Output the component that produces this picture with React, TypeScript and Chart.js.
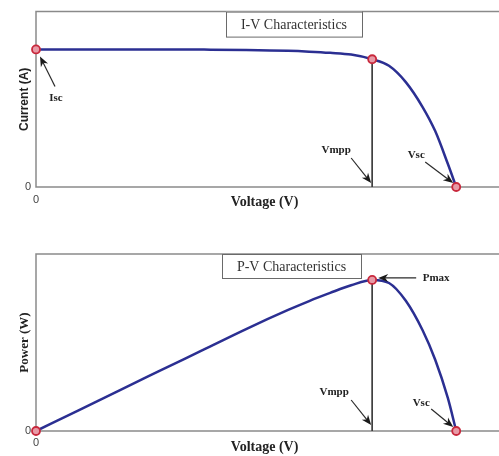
import React, { useEffect, useRef } from "react";
import { Chart, registerables } from "chart.js";

Chart.register(...registerables);

// ---- data ----
const voltage = [0, 10, 20, 30, 40, 50, 60, 65, 70, 75, 80, 84, 88, 92, 95, 98, 100];
const current = [8, 8, 8, 8, 7.99, 7.97, 7.92, 7.87, 7.8, 7.7, 7.43, 7.05, 6.1, 4.65, 3.25, 1.35, 0];
const power = [0, 80, 161, 241, 321, 401, 476, 511, 543, 573, 594, 582, 512, 396, 280, 130, 0];

const isc = 8;
const vmpp = 80;
const impp = 7.43;
const vsc = 100;
const pmax = 594;

const xTickValues = [0];
const yTickValues = [0];
const xAxisMax = 108.8;
const currentAxisMax = 10.2;
const powerAxisMax = 696;

const CANVAS_W = 499;
const CANVAS_H = 228;

const SERIF = '"Liberation Serif", "Times New Roman", serif';
const SANS = '"Liberation Sans", Arial, sans-serif';

function drawArrow(ctx: CanvasRenderingContext2D, x1: number, y1: number, x2: number, y2: number) {
  const ang = Math.atan2(y2 - y1, x2 - x1);
  const len = 10;
  const hw = 4;
  ctx.strokeStyle = "#2a2a2a";
  ctx.fillStyle = "#1a1a1a";
  ctx.lineWidth = 1.2;
  ctx.beginPath();
  ctx.moveTo(x1, y1);
  ctx.lineTo(x2 - Math.cos(ang) * len * 0.6, y2 - Math.sin(ang) * len * 0.6);
  ctx.stroke();
  const bx = x2 - Math.cos(ang) * len;
  const by = y2 - Math.sin(ang) * len;
  const nx = -Math.sin(ang);
  const ny = Math.cos(ang);
  const mx = x2 - Math.cos(ang) * len * 0.7;
  const my = y2 - Math.sin(ang) * len * 0.7;
  ctx.beginPath();
  ctx.moveTo(x2, y2);
  ctx.lineTo(bx + nx * hw, by + ny * hw);
  ctx.lineTo(mx, my);
  ctx.lineTo(bx - nx * hw, by - ny * hw);
  ctx.closePath();
  ctx.fill();
}

const annotPlugin = {
  id: "annot",
  beforeDatasetsDraw(chart: any) {
    const { ctx, chartArea } = chart;
    const { left, top, right, bottom } = chartArea;
    ctx.save();
    ctx.strokeStyle = "#8a8a8a";
    ctx.lineWidth = 1.5;
    ctx.beginPath();
    ctx.moveTo(right + 20, top);
    ctx.lineTo(left, top);
    ctx.lineTo(left, bottom);
    ctx.lineTo(right + 20, bottom);
    ctx.stroke();
    ctx.restore();
  },
  afterDraw(chart: any, _args: any, opts: any) {
    const { ctx, chartArea } = chart;
    const xs = chart.scales.x;
    const ys = chart.scales.y;
    ctx.save();
    const b = opts.box;
    if (b) {
      const bx = chartArea.left + b.dx;
      const by = chartArea.top;
      ctx.fillStyle = "#ffffff";
      ctx.fillRect(bx, by, b.w, b.h);
      ctx.strokeStyle = "#6a6a6a";
      ctx.lineWidth = 1;
      ctx.strokeRect(bx + 0.5, by + 0.5, b.w, b.h);
      ctx.fillStyle = "#333333";
      ctx.font = `14px ${SERIF}`;
      ctx.textAlign = "center";
      ctx.textBaseline = "middle";
      ctx.fillText(b.text, bx + b.w / 2, by + b.h / 2 + 1);
    }
    for (const a of opts.arrows || []) {
      const px = xs.getPixelForValue(a.x);
      const py = ys.getPixelForValue(a.y);
      drawArrow(ctx, px + a.tail[0], py + a.tail[1], px + a.tip[0], py + a.tip[1]);
      ctx.font = `bold 11px ${SERIF}`;
      ctx.fillStyle = "#222222";
      ctx.textAlign = "center";
      ctx.textBaseline = "middle";
      ctx.fillText(a.label, px + a.text[0], py + a.text[1]);
    }
    ctx.restore();
  },
};

function makeConfig(kind: "iv" | "pv"): any {
  const isIV = kind === "iv";
  const yValues = isIV ? current : power;
  const curve = voltage.map((v, i) => ({ x: v, y: yValues[i] }));
  const markers = isIV
    ? [
        { x: 0, y: isc },
        { x: vmpp, y: impp },
        { x: vsc, y: 0 },
      ]
    : [
        { x: 0, y: 0 },
        { x: vmpp, y: pmax },
        { x: vsc, y: 0 },
      ];
  const vline = [
    { x: vmpp, y: isIV ? impp : pmax },
    { x: vmpp, y: 0 },
  ];

  const arrows = isIV
    ? [
        { label: "Isc", x: 0, y: isc, tip: [4, 7], tail: [19, 37], text: [20, 49] },
        { label: "Vmpp", x: vmpp, y: 0, tip: [-1, -4], tail: [-21, -29], text: [-36, -37] },
        { label: "Vsc", x: vsc, y: 0, tip: [-3, -4], tail: [-31, -25], text: [-40, -32] },
      ]
    : [
        { label: "Pmax", x: vmpp, y: pmax, tip: [6, -2], tail: [44, -2], text: [64, -2] },
        { label: "Vmpp", x: vmpp, y: 0, tip: [-1, -6], tail: [-21, -31], text: [-38, -39] },
        { label: "Vsc", x: vsc, y: 0, tip: [-3, -4], tail: [-25, -22], text: [-35, -28] },
      ];

  return {
    type: "scatter",
    data: {
      datasets: [
        {
          data: markers,
          showLine: false,
          pointRadius: 4,
          pointBorderWidth: 1.8,
          pointBorderColor: "#c8283c",
          pointBackgroundColor: "#e79aa6",
          clip: false,
          order: 0,
        },
        {
          data: curve,
          showLine: true,
          borderColor: "#2b2f92",
          borderWidth: 2.5,
          pointRadius: 0,
          cubicInterpolationMode: "monotone",
          clip: false,
          order: 1,
        },
        {
          data: vline,
          showLine: true,
          borderColor: "#3a3a3a",
          borderWidth: 1,
          pointRadius: 0,
          order: 2,
        },
      ],
    },
    options: {
      responsive: false,
      animation: false,
      events: [],
      layout: { padding: { top: isIV ? 10 : 26, right: 0, left: 0, bottom: 0 } },
      plugins: {
        legend: { display: false },
        tooltip: { enabled: false },
        annot: {
          box: isIV
            ? { text: "I-V Characteristics", dx: 190, w: 136, h: 25 }
            : { text: "P-V Characteristics", dx: 186, w: 139, h: 24 },
          arrows,
        },
      },
      scales: {
        x: {
          type: "linear",
          min: 0,
          max: xAxisMax,
          grid: { display: false, drawTicks: false },
          border: { display: false },
          afterBuildTicks: (s: any) => {
            s.ticks = xTickValues.map((v) => ({ value: v }));
          },
          afterFit: (s: any) => {
            s.height = isIV ? 41 : 25;
          },
          ticks: {
            padding: isIV ? 6 : 5,
            color: "#444",
            font: { family: SANS, size: 11 },
            maxRotation: 0,
            callback: (v: any) => String(v),
          },
          title: {
            display: true,
            text: "Voltage (V)",
            color: "#222",
            font: { family: SERIF, size: 14, weight: "bold" },
            padding: { top: 0, bottom: isIV ? 17 : 0 },
          },
        },
        y: {
          type: "linear",
          min: 0,
          max: isIV ? currentAxisMax : powerAxisMax,
          grid: { display: false, drawTicks: false },
          border: { display: false },
          afterBuildTicks: (s: any) => {
            s.ticks = yTickValues.map((v) => ({ value: v }));
          },
          afterFit: (s: any) => {
            s.width = 36;
          },
          ticks: {
            padding: 5,
            color: "#444",
            font: { family: SANS, size: 11 },
            callback: (v: any) => String(v),
          },
          title: {
            display: true,
            text: isIV ? "Current (A)" : "Power (W)",
            color: "#222",
            font: isIV
              ? { family: SANS, size: 12, weight: "bold" }
              : { family: SERIF, size: 13, weight: "bold" },
            padding: { top: 17, bottom: 0 },
          },
        },
      },
    },
    plugins: [annotPlugin],
  };
}

function ChartCanvas({ kind }: { kind: "iv" | "pv" }) {
  const ref = useRef<HTMLCanvasElement | null>(null);
  useEffect(() => {
    if (!ref.current) return;
    const chart = new Chart(ref.current, makeConfig(kind));
    return () => chart.destroy();
  }, [kind]);
  return (
    <canvas
      ref={ref}
      width={CANVAS_W}
      height={CANVAS_H}
      style={{ display: "block", width: CANVAS_W, height: CANVAS_H }}
    />
  );
}

export default function App() {
  useEffect(() => {
    document.body.style.margin = "0";
    document.body.style.background = "#ffffff";
  }, []);
  return (
    <div style={{ width: CANVAS_W, height: CANVAS_H * 2, background: "#fff", overflow: "hidden" }}>
      <ChartCanvas kind="iv" />
      <ChartCanvas kind="pv" />
    </div>
  );
}
